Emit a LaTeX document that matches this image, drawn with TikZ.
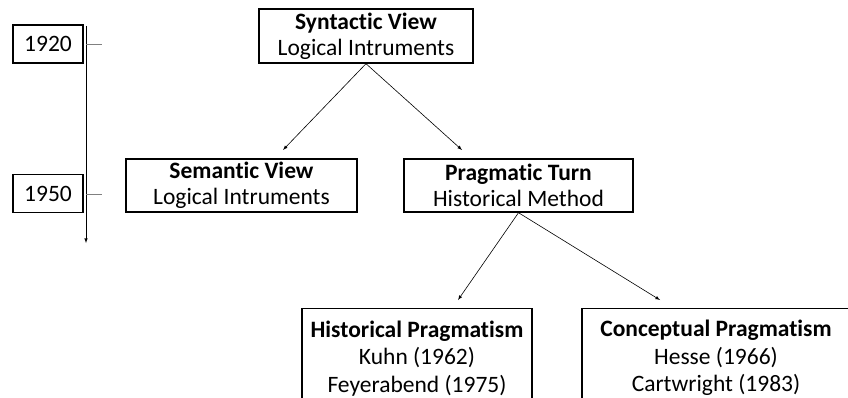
\documentclass[tikz,border=0pt]{standalone}
\usepackage{fontspec}
\setmainfont{Carlito}[Ligatures=NoCommon]
\usepackage{tikz}
\usetikzlibrary{arrows}

\begin{document}
\begin{tikzpicture}[x=1pt,y=-1pt,
        box/.style={draw, line width=1.4pt, align=center, inner sep=1pt,
            font=\fontsize{23.5}{26}\selectfont},
        year/.style={draw, line width=1.4pt, minimum width=70pt, minimum height=38pt,
            font=\fontsize{23.5}{26}\selectfont},
        link/.style={-latex, line width=0.6pt}]
        \clip (0,0) rectangle (848,398);

        % timeline
        \node[year] (1920) at (48,44) {1920};
        \node[year] (1950) at (48,193.5) {1950};
        \coordinate (ttop) at (86,26);
        \coordinate (tend) at (86,243);
        \coordinate (t1920) at (102,44);
        \coordinate (t1950) at (102,194);
        \draw[-latex, line width=0.6pt] (ttop) -- (tend);
        \draw[-, gray, line width=0.8pt] (86,44) -- (t1920);
        \draw[-, gray, line width=0.8pt] (86,194) -- (t1950);

        \node[box, minimum width=214pt, minimum height=54pt] (syn) at (366,36)
            {\textbf{Syntactic View}\\Logical Intruments};
        \node[box, minimum width=231pt, minimum height=53pt] (sem) at (241.5,185.5)
            {\textbf{Semantic View}\\Logical Intruments};
        \node[box, minimum width=229pt, minimum height=53pt] (prag) at (518.5,185.5)
            {\textbf{Pragmatic Turn}\\Historical Method};

        \node[box, anchor=north, minimum width=230pt, minimum height=99pt,
            font=\fontsize{23.5}{27.5}\selectfont] (hist) at (417,308)
            {\textbf{Historical Pragmatism}\\Kuhn (1962)\\Feyerabend (1975)};
        \node[box, anchor=north, minimum width=268pt, minimum height=99pt,
            font=\fontsize{23.5}{27.5}\selectfont] (conc) at (716,308)
            {\textbf{Conceptual Pragmatism}\\Hesse (1966)\\Cartwright (1983)};

        \coordinate (s1) at (283,150);
        \coordinate (s2) at (462,150);
        \coordinate (p1) at (458,300);
        \coordinate (p2) at (660,300);
        \draw[link] (syn.south) -- (s1);
        \draw[link] (syn.south) -- (s2);
        \draw[link] (prag.south) -- (p1);
        \draw[link] (prag.south) -- (p2);
    \end{tikzpicture}
\end{document}
